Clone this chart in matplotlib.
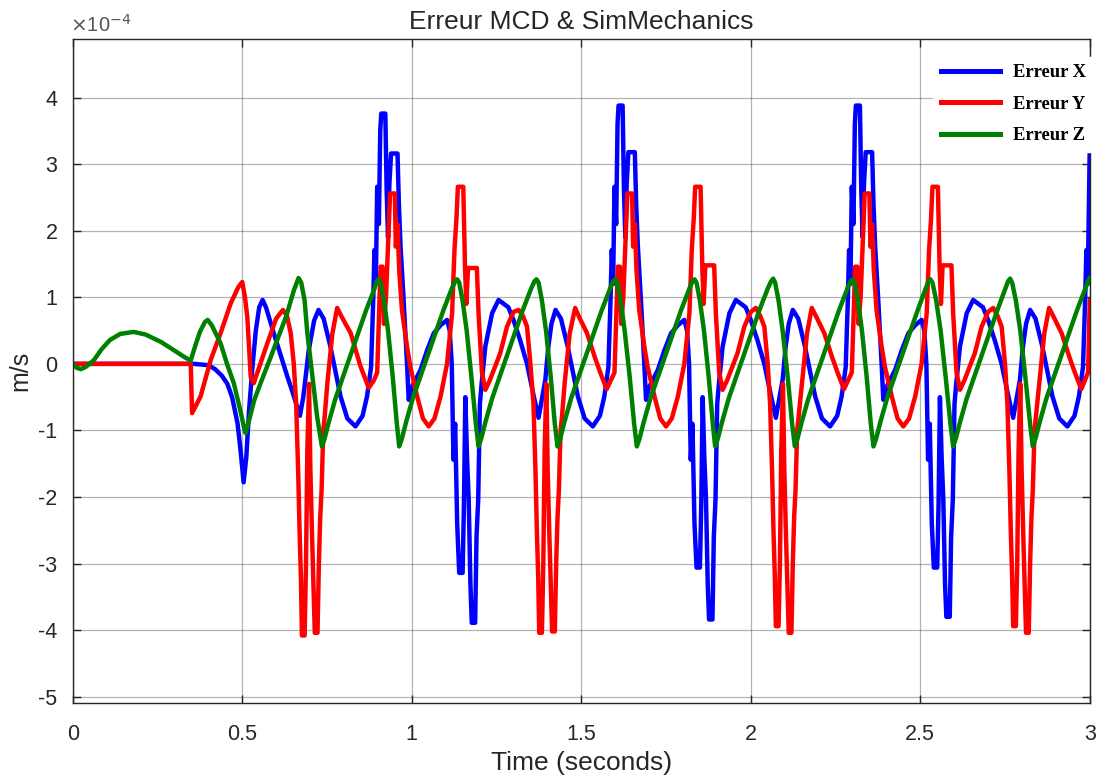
import matplotlib
matplotlib.use("Agg")
import matplotlib.pyplot as plt
from matplotlib.ticker import FuncFormatter

# values in units of 1e-4 m/s
SCALE = 1e-4

BLUE_T = [
    0.000, 0.357, 0.400, 0.420, 0.440, 0.456, 0.470, 0.486, 0.495, 0.504,
    0.512, 0.520, 0.530, 0.540, 0.550, 0.560, 0.570, 0.593, 0.633, 0.650,
    0.670, 0.680, 0.696, 0.712, 0.725, 0.740, 0.760, 0.790, 0.810, 0.834,
    0.855, 0.868, 0.880, 0.886, 0.890, 0.894, 0.898, 0.903, 0.907, 0.910,
    0.922, 0.926, 0.930, 0.934, 0.939, 0.958, 0.962, 0.967, 0.976, 0.986,
    0.991, 1.000, 1.026, 1.045, 1.065, 1.085, 1.104, 1.112, 1.118, 1.123,
    1.128, 1.134, 1.140, 1.150, 1.154, 1.158, 1.163, 1.168, 1.173, 1.177,
    1.187, 1.191, 1.196, 1.201, 1.206, 1.217, 1.237, 1.256, 1.285, 1.300,
    1.320, 1.340, 1.360, 1.374, 1.385, 1.394, 1.403, 1.412, 1.424,
    1.440, 1.460, 1.490, 1.510, 1.534, 1.555, 1.568, 1.580, 1.586, 1.590,
    1.594, 1.598, 1.603, 1.607, 1.610, 1.622, 1.626, 1.630, 1.634, 1.639,
    1.658, 1.662, 1.667, 1.676, 1.686, 1.691, 1.700, 1.726, 1.745, 1.765,
    1.785, 1.804, 1.812, 1.818, 1.823, 1.828, 1.834, 1.840, 1.850, 1.854,
    1.858, 1.863, 1.868, 1.873, 1.877, 1.887, 1.891, 1.896, 1.901, 1.906,
    1.917, 1.937, 1.956, 1.985, 2.000, 2.020, 2.040, 2.060, 2.074, 2.085,
    2.094, 2.103, 2.112, 2.124,
    2.140, 2.160, 2.190, 2.210, 2.234, 2.255, 2.268, 2.280, 2.286, 2.290,
    2.294, 2.298, 2.303, 2.307, 2.310, 2.322, 2.326, 2.330, 2.334, 2.339,
    2.358, 2.362, 2.367, 2.376, 2.386, 2.391, 2.400, 2.426, 2.445, 2.465,
    2.485, 2.504, 2.512, 2.518, 2.523, 2.528, 2.534, 2.540, 2.550, 2.554,
    2.558, 2.563, 2.568, 2.573, 2.577, 2.587, 2.591, 2.596, 2.601, 2.606,
    2.617, 2.637, 2.656, 2.685, 2.700, 2.720, 2.740, 2.760, 2.774, 2.785,
    2.794, 2.803, 2.812, 2.824, 2.840, 2.860, 2.890, 2.910, 2.934, 2.955,
    2.968, 2.980, 2.986, 2.990, 2.994, 2.998, 3.000,
]
BLUE_V = [
    0.00, 0.00, -0.02, -0.08, -0.18, -0.30, -0.50, -0.89, -1.30, -1.78,
    -1.40, -0.70, -0.05, 0.50, 0.85, 0.96, 0.85, 0.46, -0.19, -0.45,
    -0.78, -0.50, 0.20, 0.65, 0.81, 0.68, 0.26, -0.49, -0.82, -0.94,
    -0.78, -0.49, -0.05, 0.90, 1.71, 1.20, 2.66, 2.10, 3.50, 3.76,
    3.76, 2.60, 1.90, 2.70, 3.16, 3.16, 2.40, 1.76, 0.96, 0.00,
    -0.54, -0.35, -0.09, 0.20, 0.46, 0.58, 0.66, 0.50, 0.00, -1.44,
    -0.90, -2.40, -3.14, -3.14, -2.10, -0.50, -1.40, -2.04, -3.30, -3.89,
    -3.89, -2.60, -2.04, -0.60, -0.30, 0.26, 0.76, 0.96, 0.85, 0.66,
    0.35, 0.00, -0.49, -0.81, -0.50, -0.24, 0.26, 0.60, 0.81,
    0.68, 0.26, -0.49, -0.82, -0.94, -0.78, -0.49, -0.05, 0.90, 1.71,
    1.20, 2.66, 2.10, 3.60, 3.88, 3.88, 2.60, 1.90, 2.70, 3.18,
    3.18, 2.40, 1.76, 0.96, 0.00, -0.54, -0.35, -0.09, 0.20, 0.46,
    0.58, 0.66, 0.50, 0.00, -1.44, -0.90, -2.40, -3.06, -3.06, -2.10,
    -0.50, -1.40, -2.04, -3.30, -3.84, -3.84, -2.60, -2.04, -0.60, -0.30,
    0.26, 0.76, 0.96, 0.85, 0.66, 0.35, 0.00, -0.49, -0.81, -0.50,
    -0.24, 0.26, 0.60, 0.81,
    0.68, 0.26, -0.49, -0.82, -0.94, -0.78, -0.49, -0.05, 0.90, 1.71,
    1.20, 2.66, 2.10, 3.60, 3.88, 3.88, 2.60, 1.90, 2.70, 3.18,
    3.18, 2.40, 1.76, 0.96, 0.00, -0.54, -0.35, -0.09, 0.20, 0.46,
    0.58, 0.66, 0.50, 0.00, -1.44, -0.90, -2.40, -3.06, -3.06, -2.10,
    -0.50, -1.40, -2.04, -3.30, -3.80, -3.80, -2.60, -2.04, -0.60, -0.30,
    0.26, 0.76, 0.96, 0.85, 0.66, 0.35, 0.00, -0.49, -0.81, -0.50,
    -0.24, 0.26, 0.60, 0.81, 0.68, 0.26, -0.49, -0.82, -0.94, -0.78,
    -0.49, -0.05, 0.90, 1.71, 1.20, 2.66, 3.28,
]

RED_T = [
    0.000, 0.348, 0.352, 0.377, 0.407, 0.436, 0.466, 0.488, 0.500, 0.508,
    0.515, 0.525, 0.534, 0.550, 0.574, 0.600, 0.620, 0.632, 0.643, 0.652,
    0.659, 0.665, 0.669, 0.673, 0.676, 0.684, 0.688, 0.692, 0.697, 0.701,
    0.706, 0.710, 0.714, 0.722, 0.726, 0.730, 0.734, 0.739, 0.743, 0.751,
    0.766, 0.780, 0.794, 0.820, 0.849, 0.873, 0.888, 0.898, 0.904, 0.908,
    0.914, 0.918, 0.924, 0.930, 0.936, 0.950, 0.953, 0.958, 0.963, 0.971,
    0.986, 0.996, 1.016, 1.033, 1.050, 1.067, 1.085, 1.104, 1.119, 1.126,
    1.132, 1.136, 1.152, 1.157, 1.161, 1.166, 1.192, 1.197, 1.207, 1.217,
    1.230, 1.261, 1.281, 1.300, 1.315, 1.328, 1.340, 1.350, 1.359, 1.365,
    1.369, 1.373, 1.376, 1.384, 1.388, 1.392, 1.397, 1.401, 1.406, 1.410,
    1.414, 1.422, 1.426, 1.430, 1.434, 1.439, 1.443, 1.451, 1.466, 1.482,
    1.494, 1.517, 1.540, 1.556, 1.575, 1.598, 1.604, 1.608, 1.614, 1.618,
    1.624, 1.630, 1.636, 1.650, 1.653, 1.658, 1.663, 1.671, 1.686, 1.696,
    1.716, 1.733, 1.750, 1.767, 1.785, 1.804, 1.819, 1.826, 1.832, 1.836,
    1.852, 1.857, 1.861, 1.866, 1.892, 1.897, 1.907, 1.917, 1.930, 1.961,
    1.981, 2.000, 2.015, 2.028, 2.040, 2.050, 2.057, 2.063, 2.067, 2.071,
    2.074, 2.082, 2.086, 2.090, 2.095, 2.099, 2.104, 2.108, 2.112, 2.120,
    2.124, 2.128, 2.132, 2.137, 2.141, 2.151, 2.166, 2.180, 2.194, 2.217,
    2.240, 2.256, 2.275, 2.298, 2.304, 2.308, 2.314, 2.318, 2.324, 2.330,
    2.336, 2.350, 2.353, 2.358, 2.363, 2.371, 2.386, 2.396, 2.416, 2.433,
    2.450, 2.467, 2.485, 2.504, 2.519, 2.526, 2.532, 2.536, 2.552, 2.557,
    2.561, 2.566, 2.592, 2.597, 2.607, 2.617, 2.630, 2.661, 2.681, 2.700,
    2.715, 2.728, 2.740, 2.750, 2.757, 2.763, 2.767, 2.771, 2.774, 2.782,
    2.786, 2.790, 2.795, 2.799, 2.804, 2.808, 2.812, 2.820, 2.824, 2.828,
    2.832, 2.837, 2.841, 2.851, 2.866, 2.880, 2.894, 2.917, 2.940, 2.956,
    2.975, 2.995, 3.000,
]
RED_V = [
    0.00, 0.00, -0.74, -0.49, 0.06, 0.46, 0.91, 1.15, 1.23, 1.00,
    0.70, -0.20, -0.29, -0.05, 0.31, 0.68, 0.81, 0.72, 0.46, 0.00,
    -0.60, -1.63, -2.50, -3.20, -4.08, -4.08, -3.00, -1.30, -0.30, -1.60,
    -2.60, -3.30, -4.04, -4.04, -3.00, -2.30, -1.90, -1.00, -0.80, -0.29,
    0.46, 0.84, 0.70, 0.46, -0.04, -0.36, -0.25, -0.13, 0.80, 1.46,
    1.46, 0.60, 1.00, 1.80, 2.56, 2.56, 1.76, 2.10, 1.40, 0.81,
    0.26, -0.05, -0.49, -0.82, -0.94, -0.82, -0.49, 0.00, 0.76, 1.71,
    2.20, 2.66, 2.66, 1.46, 0.90, 1.44, 1.44, 0.76, -0.13, -0.39,
    -0.25, 0.16, 0.56, 0.78, 0.81, 0.72, 0.56, 0.00, -0.60, -1.63,
    -2.50, -3.20, -4.04, -4.04, -3.00, -1.30, -0.30, -1.60, -2.60, -3.30,
    -4.02, -4.02, -3.00, -2.30, -1.90, -1.00, -0.80, -0.29, 0.46, 0.84,
    0.70, 0.46, 0.10, -0.13, -0.38, -0.13, 0.80, 1.46, 1.46, 0.60,
    1.00, 1.80, 2.56, 2.56, 1.76, 2.10, 1.40, 0.81, 0.26, -0.05,
    -0.49, -0.82, -0.94, -0.82, -0.49, 0.00, 0.76, 1.71, 2.20, 2.66,
    2.66, 1.46, 0.90, 1.48, 1.48, 0.76, -0.13, -0.39, -0.25, 0.16,
    0.56, 0.78, 0.84, 0.72, 0.56, 0.00, -0.60, -1.63, -2.50, -3.20,
    -3.94, -3.94, -3.00, -1.30, -0.30, -1.60, -2.60, -3.30, -4.04, -4.04,
    -3.00, -2.30, -1.90, -1.00, -0.80, -0.29, 0.46, 0.84, 0.70, 0.46,
    0.10, -0.13, -0.38, -0.13, 0.80, 1.46, 1.46, 0.60, 1.00, 1.80,
    2.56, 2.56, 1.76, 2.10, 1.40, 0.81, 0.26, -0.05, -0.49, -0.82,
    -0.94, -0.82, -0.49, 0.00, 0.76, 1.71, 2.20, 2.66, 2.66, 1.46,
    0.90, 1.48, 1.48, 0.76, -0.13, -0.39, -0.25, 0.16, 0.56, 0.78,
    0.84, 0.72, 0.56, 0.00, -0.60, -1.63, -2.50, -3.20, -3.94, -3.94,
    -3.00, -1.30, -0.30, -1.60, -2.60, -3.30, -4.04, -4.04, -3.00, -2.30,
    -1.90, -1.00, -0.80, -0.29, 0.46, 0.84, 0.70, 0.46, 0.10, -0.13,
    -0.38, -0.13, 0.96,
]

GREEN_T = [
    0.000, 0.012, 0.024, 0.040, 0.063, 0.085, 0.110, 0.140, 0.180, 0.215,
    0.260, 0.300, 0.330, 0.348, 0.360, 0.375, 0.390, 0.398, 0.410, 0.436,
    0.455, 0.475, 0.492, 0.505, 0.510, 0.520, 0.535, 0.554, 0.580, 0.603,
    0.630, 0.652, 0.666, 0.674, 0.684, 0.692, 0.706, 0.721,
    0.735, 0.743, 0.755, 0.775, 0.805, 0.835, 0.865, 0.890, 0.896, 0.902,
    0.908, 0.918, 0.930, 0.944, 0.956,
    0.963, 0.971, 0.983, 1.003, 1.033, 1.063, 1.093, 1.118, 1.128, 1.134,
    1.140, 1.150, 1.162, 1.176, 1.189,
    1.197, 1.205, 1.217, 1.237, 1.267, 1.297, 1.327, 1.352, 1.362, 1.368,
    1.374, 1.384, 1.396, 1.410, 1.422,
    1.430, 1.438, 1.450, 1.470, 1.500, 1.530, 1.560, 1.585, 1.594, 1.600,
    1.606, 1.616, 1.628, 1.643, 1.656,
    1.664, 1.672, 1.684, 1.704, 1.734, 1.764, 1.794, 1.819, 1.828, 1.834,
    1.840, 1.850, 1.862, 1.876, 1.888,
    1.895, 1.903, 1.915, 1.935, 1.965, 1.995, 2.025, 2.050, 2.060, 2.066,
    2.072, 2.082, 2.094, 2.109, 2.122,
    2.130, 2.138, 2.150, 2.170, 2.200, 2.230, 2.260, 2.285, 2.294, 2.300,
    2.306, 2.316, 2.328, 2.342, 2.354,
    2.362, 2.370, 2.382, 2.402, 2.432, 2.462, 2.492, 2.516, 2.524, 2.530,
    2.536, 2.547, 2.560, 2.575, 2.589,
    2.597, 2.605, 2.617, 2.637, 2.667, 2.697, 2.727, 2.751, 2.759, 2.765,
    2.771, 2.782, 2.795, 2.810, 2.824,
    2.832, 2.840, 2.852, 2.872, 2.902, 2.932, 2.962, 2.987, 2.995, 3.000,
]
GREEN_V = [
    0.00, -0.06, -0.08, -0.04, 0.06, 0.22, 0.36, 0.45, 0.48, 0.44,
    0.33, 0.20, 0.10, 0.05, 0.25, 0.48, 0.63, 0.66, 0.58, 0.31,
    0.00, -0.29, -0.65, -0.95, -1.04, -0.85, -0.55, -0.29, 0.05, 0.36,
    0.72, 1.10, 1.29, 1.22, 0.95, 0.46, -0.15, -0.80,
    -1.24, -1.12, -0.88, -0.52, -0.08, 0.36, 0.80, 1.13, 1.24, 1.27,
    1.22, 0.95, 0.50, -0.20, -0.90,
    -1.24, -1.12, -0.88, -0.52, -0.08, 0.36, 0.80, 1.13, 1.24, 1.27,
    1.22, 0.95, 0.50, -0.20, -0.90,
    -1.24, -1.12, -0.88, -0.52, -0.08, 0.36, 0.80, 1.13, 1.24, 1.27,
    1.22, 0.95, 0.50, -0.20, -0.90,
    -1.24, -1.12, -0.88, -0.52, -0.08, 0.36, 0.80, 1.13, 1.24, 1.27,
    1.22, 0.95, 0.50, -0.20, -0.90,
    -1.24, -1.12, -0.88, -0.52, -0.08, 0.36, 0.80, 1.13, 1.24, 1.27,
    1.22, 0.95, 0.50, -0.20, -0.90,
    -1.24, -1.12, -0.88, -0.52, -0.08, 0.36, 0.80, 1.13, 1.24, 1.28,
    1.22, 0.95, 0.50, -0.20, -0.90,
    -1.24, -1.12, -0.88, -0.52, -0.08, 0.36, 0.80, 1.13, 1.24, 1.27,
    1.22, 0.95, 0.50, -0.20, -0.90,
    -1.24, -1.12, -0.88, -0.52, -0.08, 0.36, 0.80, 1.13, 1.24, 1.27,
    1.22, 0.95, 0.50, -0.20, -0.90,
    -1.24, -1.12, -0.88, -0.52, -0.08, 0.36, 0.80, 1.13, 1.24, 1.28,
    1.22, 0.95, 0.50, -0.20, -0.90,
    -1.24, -1.12, -0.88, -0.52, -0.08, 0.36, 0.80, 1.13, 1.24, 1.29,
]

LABELS = ["Erreur X", "Erreur Y", "Erreur Z"]
COLORS = ["#0000ff", "#ff0000", "#008000"]
XTICKS = [0, 0.5, 1, 1.5, 2, 2.5, 3]
XTICK_LABELS = ["0", "0.5", "1", "1.5", "2", "2.5", "3"]
YTICKS = [-5, -4, -3, -2, -1, 0, 1, 2, 3, 4]

TEXT_C = "#262626"
plt.rcParams["font.family"] = ["Liberation Sans", "DejaVu Sans"]
plt.rcParams["axes.unicode_minus"] = False

fig = plt.figure(figsize=(10.99, 7.80), dpi=100)
ax = fig.add_axes([0.0662, 0.0991, 0.9254, 0.8509])

series = [(BLUE_T, BLUE_V), (RED_T, RED_V), (GREEN_T, GREEN_V)]
for (t, v), color, label in zip(series, COLORS, LABELS):
    ax.plot(t, [y * SCALE for y in v], color=color, lw=3.2, label=label)

ax.set_xlim(0, 3)
ax.set_ylim(-5.09e-4, 4.88e-4)
ax.set_xticks(XTICKS)
ax.set_xticklabels(XTICK_LABELS)
ax.set_yticks([k * SCALE for k in YTICKS])
ax.yaxis.set_major_formatter(FuncFormatter(lambda v, p: "%d" % round(v / SCALE)))

ax.grid(True, color=TEXT_C, alpha=0.35, lw=0.9)
ax.set_axisbelow(True)
ax.tick_params(direction="in", top=True, right=True, length=5.5,
               width=1.0, colors=TEXT_C, labelsize=15.5, labelcolor=TEXT_C)
ax.tick_params(axis="x", pad=15)
ax.tick_params(axis="y", pad=11)
for s in ax.spines.values():
    s.set_color(TEXT_C)
    s.set_linewidth(1.0)

# exponent shown above the y axis, as in the original
ax.text(-0.003, 1.0045, r"$\times$10$^{-4}$", transform=ax.transAxes,
        fontsize=14.5, color="#555555", ha="left", va="bottom")

ax.set_title("Erreur MCD & SimMechanics", fontsize=19, color=TEXT_C, pad=7)
ax.set_xlabel("Time (seconds)", fontsize=19, color=TEXT_C, labelpad=5)
ax.set_ylabel("m/s", fontsize=18, color=TEXT_C, labelpad=4)

leg = ax.legend(loc="upper right", bbox_to_anchor=(1.004, 0.973), borderaxespad=0,
                prop={"family": "Liberation Serif", "weight": "bold", "size": 13.4},
                handlelength=3.2, handletextpad=0.7, labelspacing=0.77,
                borderpad=0.4, fancybox=False, framealpha=1.0, edgecolor="white")
for line in leg.get_lines():
    line.set_linewidth(3.6)

fig.savefig("out.png", dpi=100)
